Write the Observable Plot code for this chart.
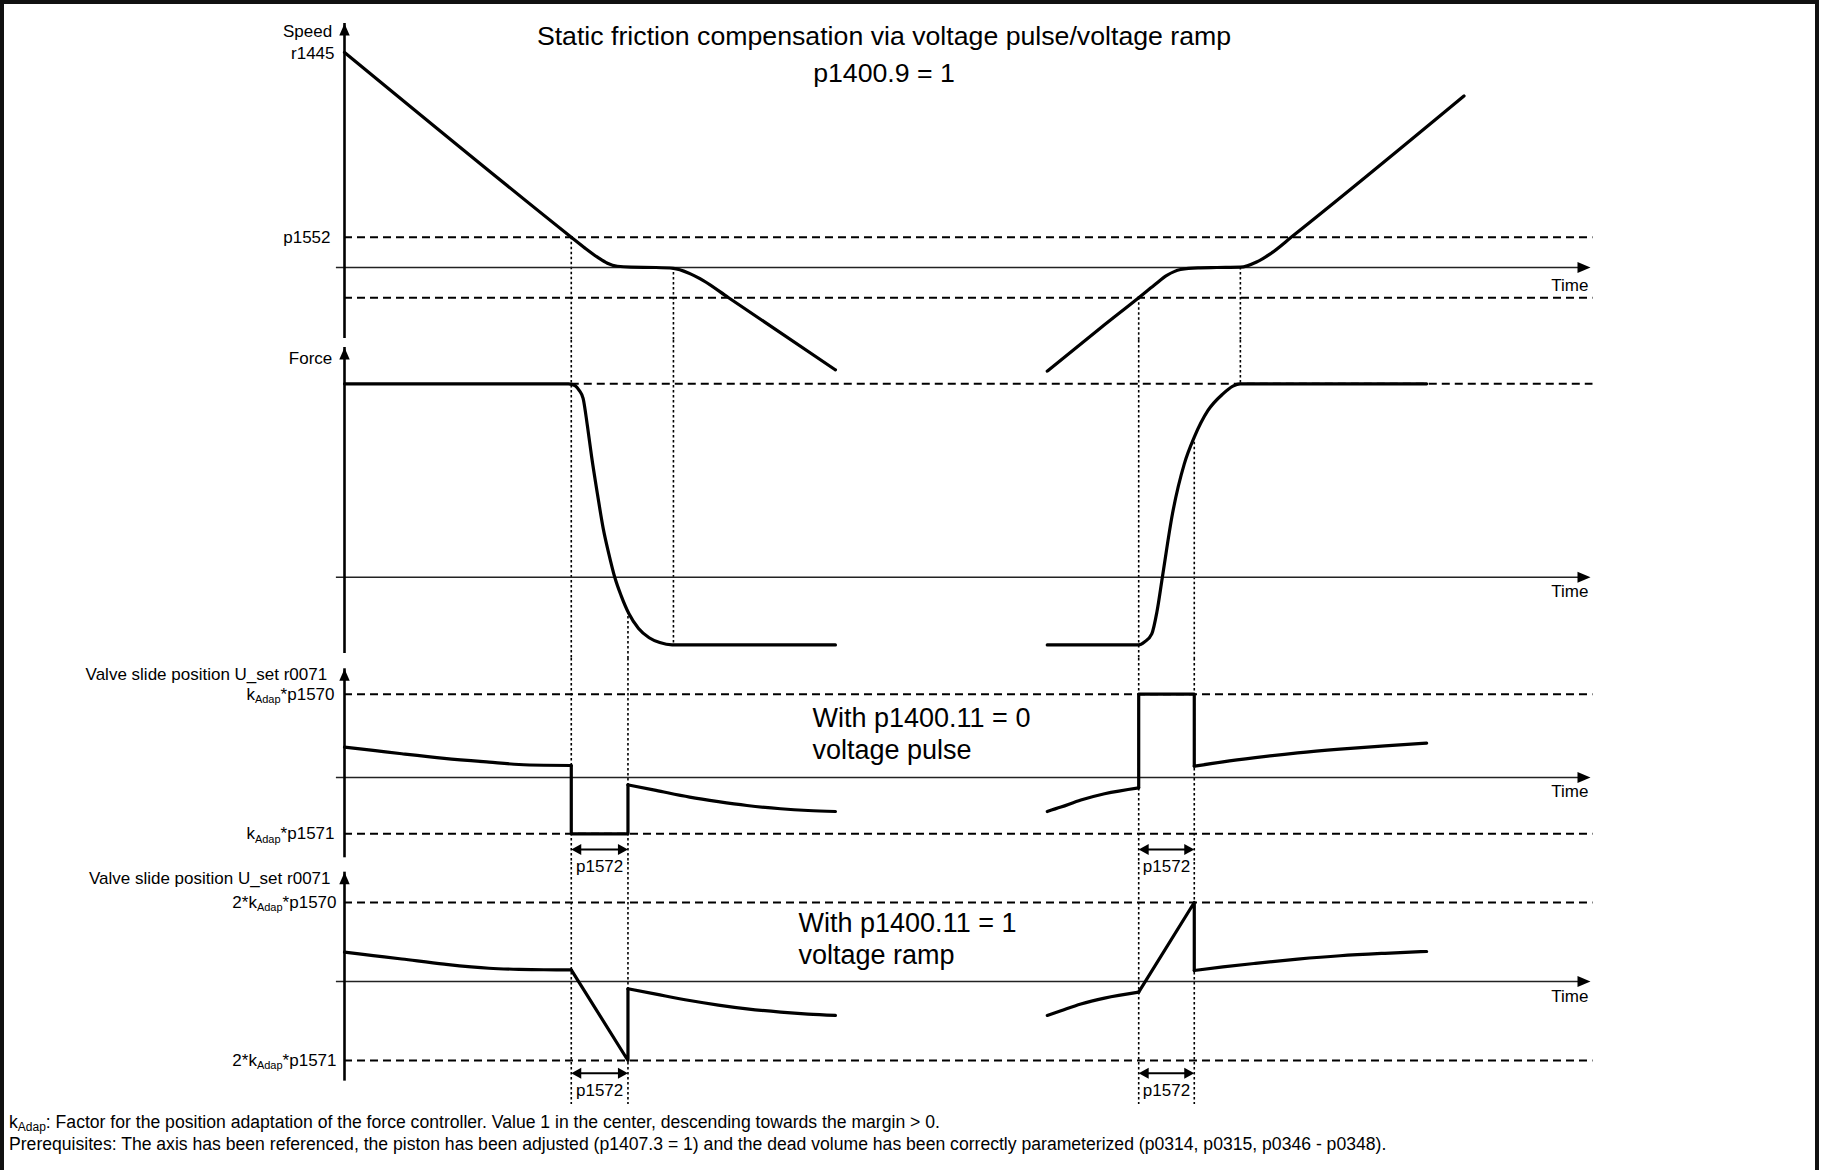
<!DOCTYPE html>
<html>
<head>
<meta charset="utf-8">
<script src="https://cdn.jsdelivr.net/npm/d3@7"></script>
<script src="https://cdn.jsdelivr.net/npm/@observablehq/plot@0.6"></script>
<style>
  html, body { margin: 0; padding: 0; background: #fff; overflow: hidden; }
  #fig { position: relative; width: 1827px; height: 1170px; font-family: "Liberation Sans", Arial, sans-serif; color: #000; }
  #frame { position: absolute; left: 0; top: 0; width: 1819px; height: 1170px; box-sizing: border-box;
           border-left: 4px solid #111; border-top: 4px solid #111; border-right: 4px solid #111; }
  .panel { position: absolute; left: 0; }
  .note { position: absolute; left: 9px; font-size: 17.6px; line-height: 17.6px; white-space: nowrap; }
  .note sub { font-size: 12px; vertical-align: -3px; line-height: 0; }
</style>
</head>
<body>
<div id="fig"><div id="frame"></div></div>
<script>
// ---------------- data ----------------
// time axis: 0 = vertical axis, 100 = arrow tip of the time axis
const eventNames = ["t1", "t3", "t2", "t4", "t6", "t5"];
const eventTimes = [18.2, 22.75, 26.4, 63.74, 68.2, 71.9];

// speed (p1552 = 10)
const speedLevelNames = ["p1552", "-p1552"];
const speedLevels = [10, -10];
const speedT1 = [0, 18.2, 19.3, 20.3, 21.1, 21.9, 23, 25, 26.4, 27.6, 28.8, 30.8, 39.4];
const speedV1 = [71, 10, 6.4, 3.4, 1.4, 0.4, 0.1, 0, -0.3, -1.8, -4.3, -9.9, -33.8];
const speedT2 = [56.4, 60.7, 63.74, 65, 66, 67.1, 68.5, 70, 71.9, 73.2, 74.3, 76.05, 89.85];
const speedV2 = [-34.2, -19.9, -10, -5.8, -2.6, -0.66, -0.1, 0, 0.1, 1.8, 4.5, 10.2, 56.6];

// force (upper level = 100)
const forceLevels = [100, -35];
const forceT1 = [0, 17.98, 18.5, 18.85, 19.15, 19.5, 19.84, 20.3, 20.77, 21.2, 21.69, 22.2, 22.83, 23.6, 24.45, 25.3, 26.3, 39.4];
const forceV1 = [100, 100, 99, 96.5, 92.5, 78, 62, 43, 25, 12.5, 0, -9.5, -18.9, -26.5, -31.3, -33.8, -35, -35];
const forceT2 = [56.4, 63.74, 64.2, 64.79, 65.2, 65.64, 66.45, 67.4, 68.2, 69.3, 70.5, 71.3, 71.9, 86.85];
const forceV2 = [-35, -35, -33.5, -29.3, -18, 0, 32.8, 58.6, 72.4, 86.2, 94.8, 98.8, 100, 100];

// valve slide position, voltage pulse (kAdap*p1570 = 100)
const valve1Levels = [100, -67.6];
const valve1PreT = [0, 2.3, 4.6, 8, 11.6, 14, 16, 18.2];
const valve1PreV = [36.4, 32.5, 28.5, 23, 18.4, 15.6, 14.7, 14.4];
const valve1PostT = [22.75, 25, 27.7, 30, 32.3, 35, 37.2, 39.4];
const valve1PostV = [-8.8, -15.5, -23.6, -29, -33.6, -37.5, -39.6, -40.8];
const valve1PreRT = [56.4, 57.5, 59.1, 61, 63.74];
const valve1PreRV = [-40.8, -35.5, -27, -19.5, -12.4];
const valve1PostRT = [68.2, 70.5, 73.1, 76.5, 79.9, 83.5, 86.85];
const valve1PostRV = [13.6, 18.8, 23.8, 29.5, 34, 38, 41.2];

// valve slide position, voltage ramp (2*kAdap*p1570 = 100)
const valve2Levels = [100, -100];
const valve2PreT = [0, 2.3, 4.6, 8, 11.6, 14, 16, 18.2];
const valve2PreV = [37.1, 32.8, 28.5, 22, 16.8, 15.4, 14.9, 14.8];
const valve2PostT = [22.75, 25, 27.7, 30, 32.3, 35, 37.2, 39.4];
const valve2PostV = [-9.2, -16, -24, -29.8, -34.6, -38.8, -41.3, -43];
const valve2PreRT = [56.4, 57.5, 59.1, 61, 63.74];
const valve2PreRV = [-43, -37, -28.5, -21, -13.5];
const valve2PostRT = [68.2, 70.5, 73.1, 76.5, 79.9, 83.5, 86.85];
const valve2PostRV = [13.9, 18.5, 23, 28.3, 32.6, 35.7, 38];

// texts
const titleLines = ["Static friction compensation via voltage pulse/voltage ramp", "p1400.9 = 1"];
const speedLabels = ["Speed", "r1445", "p1552"];
const forceLabels = ["Force"];
const valveAxisLabel = "Valve slide position U_set r0071";
const valve1Labels = ["kAdap*p1570", "kAdap*p1571"];
const valve2Labels = ["2*kAdap*p1570", "2*kAdap*p1571"];
const valve1Note = ["With p1400.11 = 0", "voltage pulse"];
const valve2Note = ["With p1400.11 = 1", "voltage ramp"];
const pulseLabel = "p1572";
const timeLabel = "Time";

// ---------------- layout ----------------
const W = 1827, X0 = 344, X1 = 1590;
const T = Object.fromEntries(eventNames.map((n, i) => [n, eventTimes[i]]));
const pts = (ts, vs) => ts.map((t, i) => ({t, v: vs[i]}));
const interp = (ts, vs, t) => { const i = d3.bisectRight(ts, t) - 1; const a = Math.max(0, Math.min(ts.length - 2, i)); const f = (t - ts[a]) / (ts[a + 1] - ts[a]); return vs[a] + f * (vs[a + 1] - vs[a]); };

function panelCfg(top, bottom, ref, axis, timeDy) {
  const [[v0, p0], [v1, p1]] = ref; const k = (p1 - p0) / (v1 - v0);
  const toV = px => v0 + (px - p0) / k;
  return {top, bottom, domain: [toV(bottom), toV(top)], axis, timeDy, toV, k};
}
const P = {
  speed: panelCfg(0, 340, [[0, 267], [10, 236.7]], [-20.8, 80.5], 17.6),
  force: panelCfg(340, 658, [[0, 576.7], [100, 383.3]], [-35.3, 118.8], 14.6),
  valve1: panelCfg(658, 862, [[0, 777], [100, 693.7]], [-86.8, 130.5], 14.3),
  valve2: panelCfg(862, 1112, [[0, 981], [100, 902]], [-116, 138.4], 15.3)
};

const FONT = "Liberation Sans, Arial, sans-serif";
const arrowUp = {draw(c) { c.moveTo(0, 0); c.lineTo(5.2, 12); c.lineTo(-5.2, 12); c.closePath(); }};
const arrowRight = {draw(c) { c.moveTo(0, 0); c.lineTo(-13, -5.5); c.lineTo(-13, 5.5); c.closePath(); }};
const arrowL = {draw(c) { c.moveTo(0, 0); c.lineTo(10, -5.5); c.lineTo(10, 5.5); c.closePath(); }};
const arrowR = {draw(c) { c.moveTo(0, 0); c.lineTo(-10, -5.5); c.lineTo(-10, 5.5); c.closePath(); }};

const dashed = {stroke: "#000", strokeWidth: 2, strokeDasharray: "8,5"};
const dotted = {stroke: "#000", strokeWidth: 1.6, strokeDasharray: "2.5,2.5"};
const solid = {stroke: "#000", strokeWidth: 3.2, strokeLinejoin: "round"};
const zeroStyle = {stroke: "#222", strokeWidth: 1.5};

function axisMarks(p) {
  return [
    Plot.ruleY([0], {x1: -0.65, x2: 100, insetRight: 8, ...zeroStyle}),
    Plot.dot([0], {x: 100, y: 0, symbol: arrowRight, fill: "#000", stroke: "none"}),
    Plot.ruleX([0], {x: 0, y1: p.axis[0], y2: p.axis[1], insetTop: 8, stroke: "#000", strokeWidth: 2.6}),
    Plot.dot([0], {x: 0, y: p.axis[1], symbol: arrowUp, fill: "#000", stroke: "none"}),
    Plot.text([timeLabel], {x: 100, y: 0, dy: p.timeDy, dx: -2, textAnchor: "end", fontSize: 17})
  ];
}
function levelMarks(levels, x1) {
  return Plot.ruleY(levels, {y: d => d, x1: x1, x2: 100.2, ...dashed});
}
function dottedMarks(rows) {
  return Plot.ruleX(rows, {x: "t", y1: "y1", y2: "y2", ...dotted});
}
function pulseArrow(y, labelY) {
  return [
    Plot.ruleY([y], {y: d => d, x1: T.t1, x2: T.t3, insetLeft: 8, insetRight: 8, stroke: "#000", strokeWidth: 2}),
    Plot.dot([T.t1], {x: d => d, y: y, symbol: arrowL, fill: "#000", stroke: "none"}),
    Plot.dot([T.t3], {x: d => d, y: y, symbol: arrowR, fill: "#000", stroke: "none"}),
    Plot.ruleY([y], {y: d => d, x1: T.t4, x2: T.t6, insetLeft: 8, insetRight: 8, stroke: "#000", strokeWidth: 2}),
    Plot.dot([T.t4], {x: d => d, y: y, symbol: arrowL, fill: "#000", stroke: "none"}),
    Plot.dot([T.t6], {x: d => d, y: y, symbol: arrowR, fill: "#000", stroke: "none"}),
    Plot.text([(T.t1 + T.t3) / 2, (T.t4 + T.t6) / 2], {x: d => d, y: labelY, text: () => pulseLabel, fontSize: 17})
  ];
}

function subscriptify(svg) {
  const NS = "http://www.w3.org/2000/svg";
  svg.querySelectorAll("text").forEach(el => {
    const s = el.textContent; const i = s.indexOf("kAdap");
    if (i < 0) return;
    el.textContent = "";
    const a = document.createElementNS(NS, "tspan"); a.textContent = s.slice(0, i + 1);
    const b = document.createElementNS(NS, "tspan"); b.textContent = "Adap"; b.setAttribute("font-size", "11"); b.setAttribute("dy", "3.5");
    const c = document.createElementNS(NS, "tspan"); c.textContent = s.slice(i + 5); c.setAttribute("dy", "-3.5");
    el.append(a, b, c);
  });
}

const fig = document.getElementById("fig");
function addPanel(p, marks) {
  const svg = Plot.plot({
    width: W, height: p.bottom - p.top,
    marginLeft: X0, marginRight: W - X1, marginTop: 0, marginBottom: 0,
    x: {domain: [0, 100], axis: null},
    y: {domain: p.domain, axis: null},
    style: {fontFamily: FONT, fontSize: "17px", overflow: "visible", background: "transparent", color: "#000"},
    marks
  });
  subscriptify(svg);
  const div = document.createElement("div");
  div.className = "panel"; div.style.top = p.top + "px";
  div.append(svg); fig.append(div);
}

// ---------------- speed ----------------
{
  const p = P.speed, [lo] = p.domain;
  addPanel(p, [
    levelMarks(speedLevels, 0),
    dottedMarks([
      {t: T.t1, y1: speedLevels[0], y2: lo}, {t: T.t2, y1: 0, y2: lo},
      {t: T.t4, y1: speedLevels[1], y2: lo}, {t: T.t5, y1: 0, y2: lo}
    ]),
    ...axisMarks(p),
    Plot.line(pts(speedT1, speedV1), {x: "t", y: "v", curve: "monotone-x", ...solid}),
    Plot.line(pts(speedT2, speedV2), {x: "t", y: "v", curve: "monotone-x", ...solid}),
    Plot.text([speedLabels[0]], {x: 0, y: p.toV(31.3), dx: -12.3, textAnchor: "end", fontSize: 17}),
    Plot.text([speedLabels[1]], {x: 0, y: p.toV(52.9), dx: -10, textAnchor: "end", fontSize: 17}),
    Plot.text([speedLabels[2]], {x: 0, y: speedLevels[0], dx: -14, textAnchor: "end", fontSize: 17}),
    Plot.text([titleLines[0]], {x: 43.3, y: p.toV(35.6), fontSize: 26.7}),
    Plot.text([titleLines[1]], {x: 43.3, y: p.toV(73.1), fontSize: 26.7})
  ]);
}

// ---------------- force ----------------
{
  const p = P.force, [lo, hi] = p.domain;
  addPanel(p, [
    levelMarks([forceLevels[0]], T.t1),
    dottedMarks([
      {t: T.t1, y1: hi, y2: lo}, {t: T.t2, y1: hi, y2: forceLevels[1]},
      {t: T.t3, y1: interp(forceT1, forceV1, T.t3), y2: lo},
      {t: T.t4, y1: hi, y2: lo}, {t: T.t5, y1: hi, y2: forceLevels[0]},
      {t: T.t6, y1: interp(forceT2, forceV2, T.t6), y2: lo}
    ]),
    ...axisMarks(p),
    Plot.line(pts(forceT1, forceV1), {x: "t", y: "v", curve: "monotone-x", ...solid}),
    Plot.line(pts(forceT2, forceV2), {x: "t", y: "v", curve: "monotone-x", ...solid}),
    Plot.text(forceLabels, {x: 0, y: p.toV(357.9), dx: -12.2, textAnchor: "end", fontSize: 17})
  ]);
}

// ---------------- valve, voltage pulse ----------------
{
  const p = P.valve1, [lo, hi] = p.domain;
  const [up, dn] = valve1Levels;
  addPanel(p, [
    levelMarks(valve1Levels, 0),
    dottedMarks([T.t1, T.t3, T.t4, T.t6].map(t => ({t, y1: hi, y2: lo}))),
    ...axisMarks(p),
    Plot.line(pts(valve1PreT, valve1PreV), {x: "t", y: "v", curve: "monotone-x", ...solid}),
    Plot.line([{t: T.t1, v: valve1PreV.at(-1)}, {t: T.t1, v: dn}, {t: T.t3, v: dn}, {t: T.t3, v: valve1PostV[0]}], {x: "t", y: "v", ...solid}),
    Plot.line(pts(valve1PostT, valve1PostV), {x: "t", y: "v", curve: "monotone-x", ...solid}),
    Plot.line(pts(valve1PreRT, valve1PreRV), {x: "t", y: "v", curve: "monotone-x", ...solid}),
    Plot.line([{t: T.t4, v: valve1PreRV.at(-1)}, {t: T.t4, v: up}, {t: T.t6, v: up}, {t: T.t6, v: valve1PostRV[0]}], {x: "t", y: "v", ...solid}),
    Plot.line(pts(valve1PostRT, valve1PostRV), {x: "t", y: "v", curve: "monotone-x", ...solid}),
    ...pulseArrow(p.toV(849), p.toV(866.3)),
    Plot.text([valveAxisLabel], {x: 0, y: p.toV(673.9), dx: -17.3, textAnchor: "end", fontSize: 17}),
    Plot.text([valve1Labels[0]], {x: 0, y: up, dx: -10, textAnchor: "end", fontSize: 17}),
    Plot.text([valve1Labels[1]], {x: 0, y: dn, dx: -10, textAnchor: "end", fontSize: 17}),
    Plot.text([valve1Note[0]], {x: 37.56, y: p.toV(718.1), textAnchor: "start", fontSize: 27}),
    Plot.text([valve1Note[1]], {x: 37.56, y: p.toV(749.7), textAnchor: "start", fontSize: 27})
  ]);
}

// ---------------- valve, voltage ramp ----------------
{
  const p = P.valve2, [lo, hi] = p.domain;
  const [up, dn] = valve2Levels;
  const dotEnd = p.toV(1104);
  addPanel(p, [
    levelMarks(valve2Levels, 0),
    dottedMarks([T.t1, T.t3, T.t4, T.t6].map(t => ({t, y1: hi, y2: dotEnd}))),
    ...axisMarks(p),
    Plot.line(pts(valve2PreT, valve2PreV), {x: "t", y: "v", curve: "monotone-x", ...solid}),
    Plot.line([{t: T.t1, v: valve2PreV.at(-1)}, {t: T.t3, v: dn}, {t: T.t3, v: valve2PostV[0]}], {x: "t", y: "v", ...solid}),
    Plot.line(pts(valve2PostT, valve2PostV), {x: "t", y: "v", curve: "monotone-x", ...solid}),
    Plot.line(pts(valve2PreRT, valve2PreRV), {x: "t", y: "v", curve: "monotone-x", ...solid}),
    Plot.line([{t: T.t4, v: valve2PreRV.at(-1)}, {t: T.t6, v: up}, {t: T.t6, v: valve2PostRV[0]}], {x: "t", y: "v", ...solid}),
    Plot.line(pts(valve2PostRT, valve2PostRV), {x: "t", y: "v", curve: "monotone-x", ...solid}),
    ...pulseArrow(p.toV(1072.7), p.toV(1089.6)),
    Plot.text([valveAxisLabel], {x: 0, y: p.toV(877.9), dx: -14, textAnchor: "end", fontSize: 17}),
    Plot.text([valve2Labels[0]], {x: 0, y: up, dx: -8, textAnchor: "end", fontSize: 17}),
    Plot.text([valve2Labels[1]], {x: 0, y: dn, dx: -8, textAnchor: "end", fontSize: 17}),
    Plot.text([valve2Note[0]], {x: 36.44, y: p.toV(923.1), textAnchor: "start", fontSize: 27}),
    Plot.text([valve2Note[1]], {x: 36.44, y: p.toV(954.7), textAnchor: "start", fontSize: 27})
  ]);
}

// ---------------- footnotes ----------------
const notes = [
  'k<sub>Adap</sub>: Factor for the position adaptation of the force controller. Value 1 in the center, descending towards the margin &gt; 0.',
  'Prerequisites: The axis has been referenced, the piston has been adjusted (p1407.3 = 1) and the dead volume has been correctly parameterized (p0314, p0315, p0346 - p0348).'
];
const noteTops = [1113.6, 1135.6];
notes.forEach((html, i) => {
  const d = document.createElement("div");
  d.className = "note"; d.style.top = noteTops[i] + "px"; d.innerHTML = html;
  fig.append(d);
});
</script>
</body>
</html>
